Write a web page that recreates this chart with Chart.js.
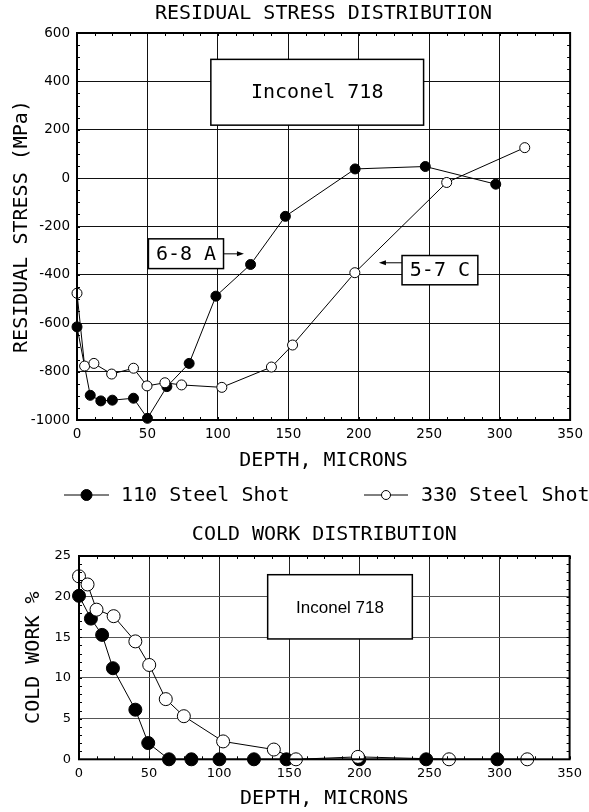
<!DOCTYPE html>
<html>
<head>
<meta charset="utf-8">
<script src="https://cdn.jsdelivr.net/npm/chart.js@4.4.1/dist/chart.umd.min.js"></script>
<style>
  html, body { margin: 0; padding: 0; background: #fff; }
  #wrap { position: relative; width: 589px; height: 812px; }
  #stress { position: absolute; left: 0; top: 0; }
  #coldwork { position: absolute; left: 0; top: 515px; }
</style>
</head>
<body>
<div id="wrap">
  <canvas id="stress" width="589" height="515"></canvas>
  <canvas id="coldwork" width="589" height="297"></canvas>
</div>
<script>
// residual stress, MPa, vs depth in microns
const depth110 = [0, 9.4, 16.9, 25.1, 40.1, 50, 63.8, 79.6, 98.6, 123.2, 147.9, 197.4, 247.2, 297.2];
const stress110 = [-615, -898, -921, -918, -910, -993, -862, -766, -488, -357, -158, 38, 48, -25];
const depth330 = [0, 5.4, 12, 24.6, 40.1, 49.7, 62.4, 74.2, 102.8, 138, 153, 197.2, 262.4, 317.8];
const stress330 = [-476, -777, -766, -810, -786, -859, -846, -855, -865, -781, -690, -391, -18, 126];

// cold work, %, vs depth in microns
const cwDepth110 = [0, 8.5, 16.5, 24.2, 40.2, 49.4, 64.2, 80.2, 100.2, 124.8, 148, 200, 247.7, 298.5];
const coldWork110 = [20.1, 17.3, 15.3, 11.2, 6.1, 2.0, 0, 0, 0, 0, 0, 0, 0, 0];
const cwDepth330 = [0, 6.1, 12.5, 24.7, 40.2, 50.1, 61.9, 74.8, 102.8, 139, 154.8, 199, 264, 319.8];
const coldWork330 = [22.5, 21.5, 18.4, 17.6, 14.5, 11.6, 7.4, 5.3, 2.2, 1.2, 0, 0.3, 0, 0];

const seriesNames = ["110 Steel Shot", "330 Steel Shot"];

const MONO = "'DejaVu Sans Mono', monospace";
const SANS = "'DejaVu Sans', sans-serif";

function pts(xs, ys) {
  return xs.map((x, i) => ({ x: x, y: ys[i] }));
}

function makeDatasets(xa, ya, xb, yb, r) {
  return [
    {
      label: seriesNames[0],
      data: pts(xa, ya),
      borderColor: "#000",
      borderWidth: 1,
      pointRadius: r,
      pointBackgroundColor: "#000",
      pointBorderColor: "#000",
      pointBorderWidth: 1,
      tension: 0,
      clip: false,
      order: 1,
    },
    {
      label: seriesNames[1],
      data: pts(xb, yb),
      borderColor: "#000",
      borderWidth: 1,
      pointRadius: r,
      pointBackgroundColor: "#fff",
      pointBorderColor: "#000",
      pointBorderWidth: 1,
      tension: 0,
      clip: false,
      order: 0,
    }
  ];
}

// frame round the plot with small inward minor ticks
const framePlugin = {
  id: "frame",
  afterDatasetsDraw(chart, args, opts) {
    const { ctx, chartArea: a, scales } = chart;
    const x = scales.x, y = scales.y;
    ctx.save();
    ctx.strokeStyle = "#000";
    ctx.lineWidth = 1;
    ctx.beginPath();
    for (let v = x.min; v <= x.max; v += opts.xMinor) {
      const px = Math.round(x.getPixelForValue(v)) + 0.5;
      ctx.moveTo(px, a.bottom); ctx.lineTo(px, a.bottom - 3);
      ctx.moveTo(px, a.top); ctx.lineTo(px, a.top + 3);
    }
    for (let v = y.min; v <= y.max; v += opts.yMinor) {
      const py = Math.round(y.getPixelForValue(v)) + 0.5;
      ctx.moveTo(a.left, py); ctx.lineTo(a.left + 3, py);
      ctx.moveTo(a.right, py); ctx.lineTo(a.right - 3, py);
    }
    ctx.stroke();
    ctx.lineWidth = 2;
    ctx.strokeRect(a.left, a.top, a.right - a.left, a.bottom - a.top);
    ctx.restore();
  }
};

// text boxes and arrows placed in data units
const notesPlugin = {
  id: "notes",
  beforeDatasetsDraw(chart, args, opts) {
    const { ctx, scales } = chart;
    const x = scales.x, y = scales.y;
    ctx.save();
    (opts.boxes || []).forEach(b => {
      const l = x.getPixelForValue(b.x0), r = x.getPixelForValue(b.x1);
      const t = y.getPixelForValue(b.y1), btm = y.getPixelForValue(b.y0);
      ctx.fillStyle = "#fff";
      ctx.fillRect(l, t, r - l, btm - t);
      ctx.strokeStyle = "#000";
      ctx.lineWidth = 1.5;
      ctx.strokeRect(l, t, r - l, btm - t);
      ctx.fillStyle = "#000";
      ctx.font = b.font;
      ctx.textAlign = "center";
      ctx.textBaseline = "middle";
      ctx.fillText(b.text, (l + r) / 2, (t + btm) / 2 + 1);
      if (b.arrowTo != null) {
        const from = b.arrowTo > b.x1 ? r : l;
        const tx = x.getPixelForValue(b.arrowTo);
        const ay = y.getPixelForValue(b.arrowY);
        const dir = tx > from ? 1 : -1;
        ctx.lineWidth = 1;
        ctx.beginPath();
        ctx.moveTo(from, ay); ctx.lineTo(tx - dir * 5, ay);
        ctx.stroke();
        ctx.beginPath();
        ctx.moveTo(tx, ay);
        ctx.lineTo(tx - dir * 7, ay - 2.5);
        ctx.lineTo(tx - dir * 7, ay + 2.5);
        ctx.closePath();
        ctx.fill();
      }
    });
    ctx.restore();
  }
};

// legend drawn as line-with-marker, like the original
const lineLegendPlugin = {
  id: "lineLegend",
  afterDraw(chart, args, opts) {
    if (!opts.items) return;
    const { ctx } = chart;
    ctx.save();
    opts.items.forEach((it, i) => {
      const ds = chart.data.datasets[i];
      ctx.strokeStyle = "#000";
      ctx.lineWidth = 1;
      ctx.beginPath();
      ctx.moveTo(it.x0, opts.y); ctx.lineTo(it.x1, opts.y);
      ctx.stroke();
      ctx.beginPath();
      ctx.arc((it.x0 + it.x1) / 2, opts.y, it.r, 0, Math.PI * 2);
      ctx.fillStyle = ds.pointBackgroundColor;
      ctx.fill();
      ctx.stroke();
      ctx.fillStyle = "#000";
      ctx.font = "20px " + MONO;
      ctx.textAlign = "left";
      ctx.textBaseline = "middle";
      ctx.fillText(ds.label, it.tx, opts.y + 1);
    });
    ctx.restore();
  }
};

new Chart(document.getElementById("stress"), {
  type: "line",
  data: { datasets: makeDatasets(depth110, stress110, depth330, stress330, 5) },
  plugins: [framePlugin, notesPlugin, lineLegendPlugin],
  options: {
    responsive: false,
    animation: false,
    layout: { padding: { left: 0, right: 16, top: 0, bottom: 40 } },
    scales: {
      x: {
        type: "linear",
        min: 0, max: 350,
        afterFit: s => { s.height = 55; },
        ticks: { stepSize: 50, padding: 6, color: "#000", font: { family: SANS, size: 13.5 }, maxRotation: 0 },
        grid: { color: "#111", lineWidth: 1, drawTicks: false },
        border: { display: false },
        title: { display: true, text: "DEPTH, MICRONS", color: "#000", font: { family: MONO, size: 20 }, padding: { top: 0, bottom: 2 } }
      },
      y: {
        min: -1000, max: 600,
        afterFit: s => { s.width = 77; },
        ticks: { stepSize: 200, padding: 7, color: "#000", font: { family: SANS, size: 13.5 }, callback: v => String(v) },
        grid: { color: "#111", lineWidth: 1, drawTicks: false },
        border: { display: false },
        title: { display: true, text: "RESIDUAL STRESS (MPa)", color: "#000", font: { family: MONO, size: 20 }, padding: { top: 10, bottom: 0 } }
      }
    },
    plugins: {
      legend: { display: false },
      tooltip: { enabled: false },
      title: {
        display: true,
        text: "RESIDUAL STRESS DISTRIBUTION",
        color: "#000",
        fullSize: false,
        font: { family: MONO, size: 20, weight: "normal" },
        padding: { top: 2, bottom: 7 }
      },
      frame: { xMinor: 12.5, yMinor: 50 },
      notes: {
        boxes: [
          { x0: 95, x1: 246, y0: 219, y1: 491, text: "Inconel 718", font: "20px " + MONO },
          { x0: 50.7, x1: 104, y0: -374, y1: -251, text: "6-8 A", font: "20px " + MONO, arrowTo: 118.5, arrowY: -313 },
          { x0: 230.7, x1: 284.5, y0: -441, y1: -320, text: "5-7 C", font: "20px " + MONO, arrowTo: 214.3, arrowY: -350 }
        ]
      },
      lineLegend: {
        y: 495,
        items: [
          { x0: 64, x1: 109, r: 5.5, tx: 121 },
          { x0: 364, x1: 408, r: 4.5, tx: 421 }
        ]
      }
    }
  }
});

new Chart(document.getElementById("coldwork"), {
  type: "line",
  data: { datasets: makeDatasets(cwDepth110, coldWork110, cwDepth330, coldWork330, 6.5) },
  plugins: [framePlugin, notesPlugin],
  options: {
    responsive: false,
    animation: false,
    layout: { padding: { left: 0, right: 14, top: 0, bottom: 0 } },
    scales: {
      x: {
        type: "linear",
        min: 0, max: 350,
        afterFit: s => { s.height = 52.7; },
        ticks: { stepSize: 50, padding: 7, color: "#000", font: { family: SANS, size: 13 }, maxRotation: 0 },
        grid: { color: "#222", lineWidth: 1, drawTicks: false },
        border: { display: false },
        title: { display: true, text: "DEPTH, MICRONS", color: "#000", font: { family: MONO, size: 20 }, padding: { top: 0, bottom: 1 } }
      },
      y: {
        min: 0, max: 25,
        afterFit: s => { s.width = 79; },
        ticks: { stepSize: 5, padding: 8, color: "#000", font: { family: SANS, size: 13 }, callback: v => String(v) },
        grid: { color: "#555", lineWidth: 1, drawTicks: false },
        border: { display: false },
        title: { display: true, text: "COLD WORK %", color: "#000", font: { family: MONO, size: 20 }, padding: { top: 22, bottom: 0 } }
      }
    },
    plugins: {
      legend: { display: false },
      tooltip: { enabled: false },
      title: {
        display: true,
        text: "COLD WORK DISTRIBUTION",
        color: "#000",
        fullSize: false,
        font: { family: MONO, size: 20, weight: "normal" },
        padding: { top: 8, bottom: 9 }
      },
      frame: { xMinor: 12.5, yMinor: 1 },
      notes: {
        boxes: [
          { x0: 134.6, x1: 237.8, y0: 14.8, y1: 22.7, text: "Inconel 718", font: "17px 'Liberation Sans', Arial, sans-serif" }
        ]
      }
    }
  }
});
</script>
</body>
</html>
